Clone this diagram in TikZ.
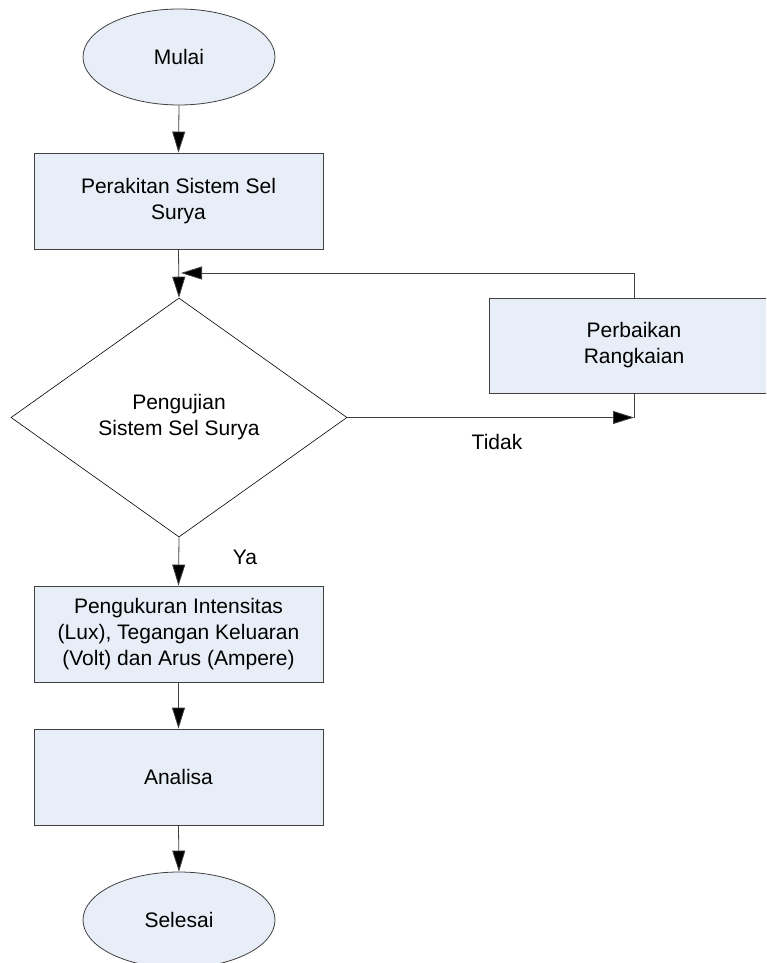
\documentclass[tikz,border=0pt]{standalone}
\usepackage{fontspec}
\setmainfont{Liberation Sans}
\usetikzlibrary{shapes.geometric,arrows.meta}
\definecolor{fillblue}{RGB}{232,238,247}
\definecolor{linegray}{RGB}{64,64,64}
\begin{document}
\begin{tikzpicture}[x=1pt,y=-1pt,
  font=\fontsize{21}{26}\selectfont,
  every node/.style={inner sep=0pt, align=center},
  terminal/.style={ellipse, draw=linegray, fill=fillblue, line width=0.8pt, minimum width=192pt, minimum height=96pt},
  procbox/.style={rectangle, draw=linegray, fill=fillblue, line width=0.8pt, minimum width=289pt, minimum height=96pt},
  decision/.style={diamond, draw=black, fill=white, line width=0.6pt, minimum width=336pt, minimum height=239pt},
  conn/.style={draw=linegray, line width=0.8pt},
  arr/.style={conn, -{Triangle[length=21pt,width=13pt,fill=black]}},
  lbl/.style={font=\fontsize{21}{26}\selectfont}
]
\useasboundingbox (0,0) rectangle (766,963);
\clip (0,0) rectangle (766,963);
\node[terminal] (mulai) at (179,57) {Mulai};
\node[procbox] (rakit) at (178.5,201) {Perakitan Sistem Sel\\Surya};
\node[decision] (uji) at (179,417.5) {\raisebox{6pt}{\begin{tabular}{@{}c@{}}Pengujian\\Sistem Sel Surya\end{tabular}}};
\node[procbox, minimum width=290pt, minimum height=95pt] (baik) at (634,345.5) {Perbaikan\\Rangkaian};
\node[procbox] (ukur) at (178.5,634) {Pengukuran Intensitas\\(Lux), Tegangan Keluaran\\(Volt) dan Arus (Ampere)};
\node[procbox] (analisa) at (178.5,777) {Analisa};
\node[terminal] (selesai) at (179,920) {Selesai};
\coordinate (fbin) at (181,273);
\coordinate (fbtop) at (634,273);
\coordinate (tin) at (634,417.5);
\draw[arr] (baik.north) -- (fbtop) -- (fbin);
\draw[arr] (mulai.south) -- (rakit.north);
\draw[arr] (rakit.south) -- (uji.north);
\draw[arr] (uji.east) -- (tin);
\draw[conn] (baik.south) -- (tin);
\draw[arr] (uji.south) -- (ukur.north);
\draw[arr] (ukur.south) -- (analisa.north);
\draw[arr] (analisa.south) -- (selesai.north);
\node[lbl] (tidak) at (497,442) {Tidak};
\node[lbl] (ya) at (245,557) {Ya};
\end{tikzpicture}
\end{document}
